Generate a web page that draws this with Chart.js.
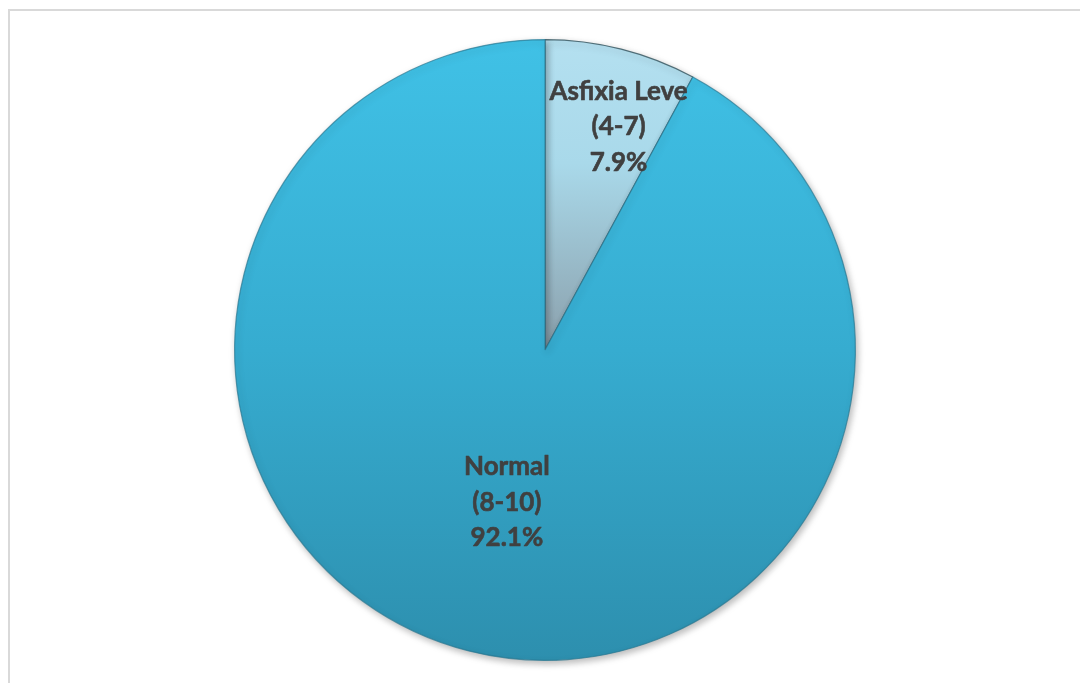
<!DOCTYPE html>
<html>
<head>
<meta charset="utf-8">
<script src="https://cdn.jsdelivr.net/npm/chart.js@4/dist/chart.umd.min.js"></script>
<style>
  html, body { margin: 0; padding: 0; background: #ffffff; }
  #wrap { position: relative; width: 1080px; height: 683px; overflow: hidden; }
  #frame { position: absolute; left: 8px; top: 9px; width: 1090px; height: 700px;
           border-left: 2px solid #d9d9d9; border-top: 2px solid #d9d9d9; box-sizing: border-box; }
  canvas { position: absolute; left: 0; top: 0; }
</style>
</head>
<body>
<div id="wrap">
  <div id="frame"></div>
  <canvas id="pie" width="1080" height="683"></canvas>
</div>
<script>
// Apgar score groups and their share of newborns (%)
const categories = ['Asfixia Leve', 'Normal'];
const ranges = ['(4-7)', '(8-10)'];
const shares = [7.9, 92.1];

// Vertical shading for each slice, top colour to bottom colour
const sliceShades = [
  ['#b4e0f0', '#8a9fab'],
  ['#40c1e6', '#2d8fae']
];
// Label anchor: fraction of the radius along the slice's middle ray, plus a nudge in px
const labelReach = [0.755, 0.50];
const labelNudge = [[16, 4], [0, 2]];

function shadeFor(ctx) {
  const chart = ctx.chart;
  const area = chart.chartArea;
  if (!area) return sliceShades[ctx.dataIndex][0];
  const g = chart.ctx.createLinearGradient(0, area.top, 0, area.bottom);
  const s = sliceShades[ctx.dataIndex];
  if (ctx.dataIndex === 0) {
    g.addColorStop(0, s[0]);
    g.addColorStop(0.2, '#a9d9ea');
    g.addColorStop(0.5, s[1]);
    g.addColorStop(1, s[1]);
  } else {
    g.addColorStop(0, s[0]);
    g.addColorStop(0.5, '#36acd0');
    g.addColorStop(1, s[1]);
  }
  return g;
}

const softShadow = {
  id: 'softShadow',
  beforeDatasetsDraw(chart) {
    const c = chart.ctx;
    c.save();
    c.shadowColor = 'rgba(0,0,0,0.28)';
    c.shadowBlur = 7;
    c.shadowOffsetX = 2;
    c.shadowOffsetY = 3;
  },
  afterDatasetsDraw(chart) {
    chart.ctx.restore();
  }
};

const sliceLabels = {
  id: 'sliceLabels',
  afterDatasetsDraw(chart) {
    const c = chart.ctx;
    const meta = chart.getDatasetMeta(0);
    const values = chart.data.datasets[0].data;
    c.save();
    c.font = 'bold 26px Lato, "Open Sans", sans-serif';
    c.fillStyle = '#404040';
    c.strokeStyle = '#404040';
    c.lineWidth = 0.6;
    c.lineJoin = 'round';
    c.textAlign = 'center';
    c.textBaseline = 'middle';
    meta.data.forEach((arc, i) => {
      const p = arc.getProps(['x', 'y', 'startAngle', 'endAngle', 'outerRadius'], true);
      const mid = (p.startAngle + p.endAngle) / 2;
      const r = p.outerRadius * labelReach[i];
      const x = p.x + Math.cos(mid) * r + labelNudge[i][0];
      const y = p.y + Math.sin(mid) * r + labelNudge[i][1];
      const lines = [categories[i], ranges[i], values[i].toFixed(1) + '%'];
      const lh = 35.5;
      lines.forEach((t, k) => {
        c.fillText(t, x, y + (k - 1) * lh);
        c.strokeText(t, x, y + (k - 1) * lh);
      });
    });
    c.restore();
  }
};

new Chart(document.getElementById('pie'), {
  type: 'pie',
  data: {
    labels: categories,
    datasets: [{
      data: shares,
      backgroundColor: shadeFor,
      borderColor: ['rgba(60,90,100,0.85)', 'rgba(40,120,145,0.7)'],
      borderWidth: 1.2
    }]
  },
  options: {
    responsive: false,
    animation: false,
    layout: { padding: { top: 39, bottom: 22, left: 234, right: 224 } },
    plugins: {
      legend: { display: false },
      tooltip: { enabled: false }
    }
  },
  plugins: [softShadow, sliceLabels]
});
</script>
</body>
</html>
